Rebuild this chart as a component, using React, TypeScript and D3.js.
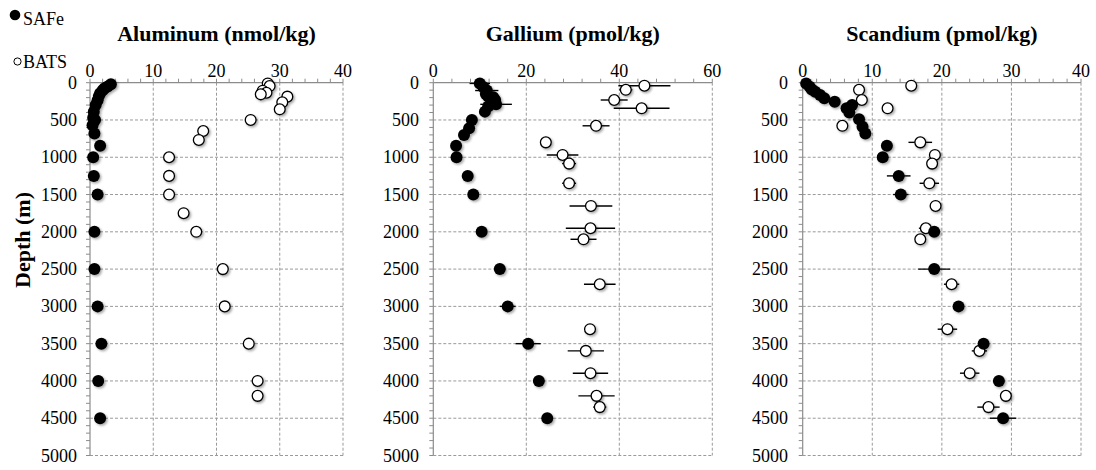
import React from 'react';
import * as d3 from 'd3';

// ---------- data ----------
const depthTicks = [0, 500, 1000, 1500, 2000, 2500, 3000, 3500, 4000, 4500, 5000];

const alTicks = [0, 10, 20, 30, 40];
const gaTicks = [0, 20, 40, 60];
const scTicks = [0, 10, 20, 30, 40];

// Aluminum (nmol/kg)
const alSafeDepth = [20, 50, 75, 100, 140, 180, 235, 300, 390, 470, 500, 570, 680, 845, 1000, 1250, 1500, 2000, 2500, 3000, 3500, 4000, 4500];
const alSafeVal = [3.3, 2.8, 2.3, 2.0, 1.6, 1.4, 1.2, 0.9, 0.6, 0.5, 0.8, 0.4, 0.7, 1.6, 0.5, 0.6, 1.2, 0.7, 0.7, 1.2, 1.8, 1.3, 1.6];
const alBatsDepth = [10, 45, 107, 135, 156, 187, 263, 357, 500, 648, 768, 1000, 1250, 1500, 1750, 2000, 2500, 3000, 3500, 4000, 4200];
const alBatsVal = [28.1, 28.4, 27.3, 27.9, 27.0, 31.2, 30.4, 30.0, 25.4, 17.9, 17.2, 12.5, 12.5, 12.5, 14.8, 16.8, 21.0, 21.3, 25.1, 26.5, 26.5];

// Gallium (pmol/kg)
const gaSafeDepth = [10, 60, 105, 150, 185, 195, 232, 290, 320, 388, 500, 612, 700, 845, 1000, 1250, 1500, 2000, 2500, 3000, 3500, 4000, 4500];
const gaSafeVal = [10.0, 10.8, 11.5, 11.3, 11.8, 12.9, 13.3, 13.5, 11.8, 11.1, 8.3, 7.7, 6.6, 4.9, 5.0, 7.4, 8.6, 10.4, 14.3, 16.0, 20.4, 22.7, 24.5];
const gaSafeErr = [2.2, 0, 2.5, 0, 0, 0, 0, 3.4, 0, 0, 0, 0, 0, 0, 0, 0, 0, 0, 0, 1.7, 2.7, 0, 0];

const batsDepth = [40, 95, 232, 343, 578, 800, 969, 1085, 1349, 1653, 1952, 2100, 2703, 3306, 3597, 3896, 4200, 4351];
const gaBatsVal = [45.4, 41.4, 38.9, 44.8, 35.0, 24.2, 27.8, 29.2, 29.2, 33.9, 33.8, 32.3, 35.8, 33.7, 32.8, 33.8, 35.1, 35.8];
const gaBatsErr = [5.6, 1.4, 2.9, 6.0, 2.9, 0, 3.4, 1.5, 1.5, 4.6, 5.3, 2.8, 3.4, 0, 3.9, 3.8, 3.9, 1.4];

// Scandium (pmol/kg)
const scSafeDepth = [10, 54, 90, 120, 165, 210, 255, 300, 343, 400, 491, 590, 680, 845, 1000, 1250, 1500, 2000, 2500, 3000, 3500, 4000, 4500];
const scSafeVal = [0.5, 1.0, 1.3, 1.8, 2.5, 3.1, 4.6, 7.1, 6.3, 6.7, 8.1, 8.6, 9.0, 12.1, 11.5, 13.8, 14.1, 18.9, 18.9, 22.4, 26.0, 28.2, 28.8];
const scSafeErr = [0, 0, 0, 0, 0, 0, 0, 0, 0, 0, 0, 0, 0, 0, 0, 1.7, 1.1, 0, 2.3, 0, 0, 0, 1.9];
const scBatsVal = [15.6, 8.1, 8.5, 12.2, 5.7, 16.9, 19.0, 18.6, 18.2, 19.1, 17.7, 16.9, 21.4, 20.8, 25.4, 24.0, 29.2, 26.7];
const scBatsErr = [0, 0, 0, 0, 0, 1.7, 0, 0, 1.4, 0, 1.0, 0, 1.1, 1.4, 1.1, 1.4, 0.8, 1.6];

// ---------- layout ----------
const W = 1096;
const H = 470;
const TOP = 82.7;
const BOTTOM = 455.5;
const FONT = "'Liberation Serif', 'DejaVu Serif', serif";
const txt = { fontFamily: FONT } as React.CSSProperties;

type Pt = { d: number; v: number; e: number };
const mk = (ds: number[], vs: number[], es?: number[]): Pt[] =>
  ds.map((d, i) => ({ d, v: vs[i], e: es ? es[i] : 0 }));

const panels = [
  {
    title: 'Aluminum (nmol/kg)', x0: 90, x1: 343, max: 40, ticks: alTicks, minor: 2, labelRight: 77,
    safe: mk(alSafeDepth, alSafeVal), bats: mk(alBatsDepth, alBatsVal),
  },
  {
    title: 'Gallium (pmol/kg)', x0: 433.3, x1: 712.3, max: 60, ticks: gaTicks, minor: 4, labelRight: 419,
    safe: mk(gaSafeDepth, gaSafeVal, gaSafeErr), bats: mk(batsDepth, gaBatsVal, gaBatsErr),
  },
  {
    title: 'Scandium (pmol/kg)', x0: 802.7, x1: 1081, max: 40, ticks: scTicks, minor: 2, labelRight: 788,
    safe: mk(scSafeDepth, scSafeVal, scSafeErr), bats: mk(batsDepth, scBatsVal, scBatsErr),
  },
];

export default function App() {
  const y = d3.scaleLinear().domain([0, 5000]).range([TOP, BOTTOM]);
  const minorDepth = d3.range(0, 5001, 100);

  return (
    <svg width={W} height={H} style={{ position: 'absolute', left: 0, top: 0, background: '#fff', fontFamily: FONT }}>
      <defs>
        <filter id="sh" x="-50%" y="-50%" width="200%" height="200%">
          <feDropShadow dx="1.5" dy="1.5" stdDeviation="1" floodColor="#000" floodOpacity="0.35" />
        </filter>
      </defs>

      {/* legend */}
      <circle cx={15} cy={15} r={5.3} fill="#000" />
      <text x={23} y={25} fontSize={18} style={txt}>SAFe</text>
      <circle cx={17.5} cy={61.5} r={3.6} fill="#fff" stroke="#000" strokeWidth={1} />
      <text x={23} y={68} fontSize={18} style={txt}>BATS</text>

      {/* y title */}
      <text transform="translate(30,240) rotate(-90)" textAnchor="middle" fontSize={22} fontWeight="bold" style={txt}>
        Depth (m)
      </text>

      {panels.map((p, pi) => {
        const x = d3.scaleLinear().domain([0, p.max]).range([p.x0, p.x1]);
        const minorX = d3.range(0, p.max + 0.001, p.minor);
        return (
          <g key={pi}>
            <text x={(p.x0 + p.x1) / 2} y={41} textAnchor="middle" fontSize={22} fontWeight="bold" style={txt}>{p.title}</text>
            {/* grid */}
            {p.ticks.filter((t) => t > 0).map((t) => (
              <line key={'gx' + t} x1={x(t)} x2={x(t)} y1={TOP} y2={BOTTOM} stroke="#9a9a9a" strokeWidth={1} strokeDasharray="3,2" />
            ))}
            {depthTicks.filter((t) => t > 0).map((t) => (
              <line key={'gy' + t} x1={p.x0} x2={p.x1} y1={y(t)} y2={y(t)} stroke="#9a9a9a" strokeWidth={1} strokeDasharray="3,2" />
            ))}
            {/* axes */}
            <line x1={p.x0} x2={p.x1} y1={TOP} y2={TOP} stroke="#8c8c8c" strokeWidth={1.2} />
            <line x1={p.x0} x2={p.x0} y1={TOP} y2={BOTTOM} stroke="#8c8c8c" strokeWidth={1.2} />
            {minorX.map((t) => (
              <line key={'mx' + t} x1={x(t)} x2={x(t)} y1={TOP} y2={TOP - 4} stroke="#8c8c8c" strokeWidth={1} />
            ))}
            {minorDepth.map((t) => (
              <line key={'my' + t} x1={p.x0} x2={p.x0 - 4} y1={y(t)} y2={y(t)} stroke="#8c8c8c" strokeWidth={1} />
            ))}
            {/* tick labels */}
            {p.ticks.map((t) => (
              <text key={'tx' + t} x={x(t)} y={77} textAnchor="middle" fontSize={18} style={txt}>{t}</text>
            ))}
            {depthTicks.map((t) => (
              <text key={'ty' + t} x={p.labelRight} y={y(t) + 6} textAnchor="end" fontSize={18} style={txt}>{t}</text>
            ))}
            {/* error bars */}
            {[...p.safe, ...p.bats].filter((q) => q.e > 0).map((q, i) => (
              <line key={'e' + i} x1={x(q.v - q.e)} x2={x(q.v + q.e)} y1={y(q.d)} y2={y(q.d)} stroke="#000" strokeWidth={1.4} />
            ))}
            {/* markers */}
            <g filter="url(#sh)">
              {p.bats.map((q, i) => (
                <circle key={'b' + i} cx={x(q.v)} cy={y(q.d)} r={5.4} fill="#fff" stroke="#000" strokeWidth={1.3} />
              ))}
              {p.safe.map((q, i) => (
                <circle key={'s' + i} cx={x(q.v)} cy={y(q.d)} r={6} fill="#000" />
              ))}
            </g>
          </g>
        );
      })}
    </svg>
  );
}
